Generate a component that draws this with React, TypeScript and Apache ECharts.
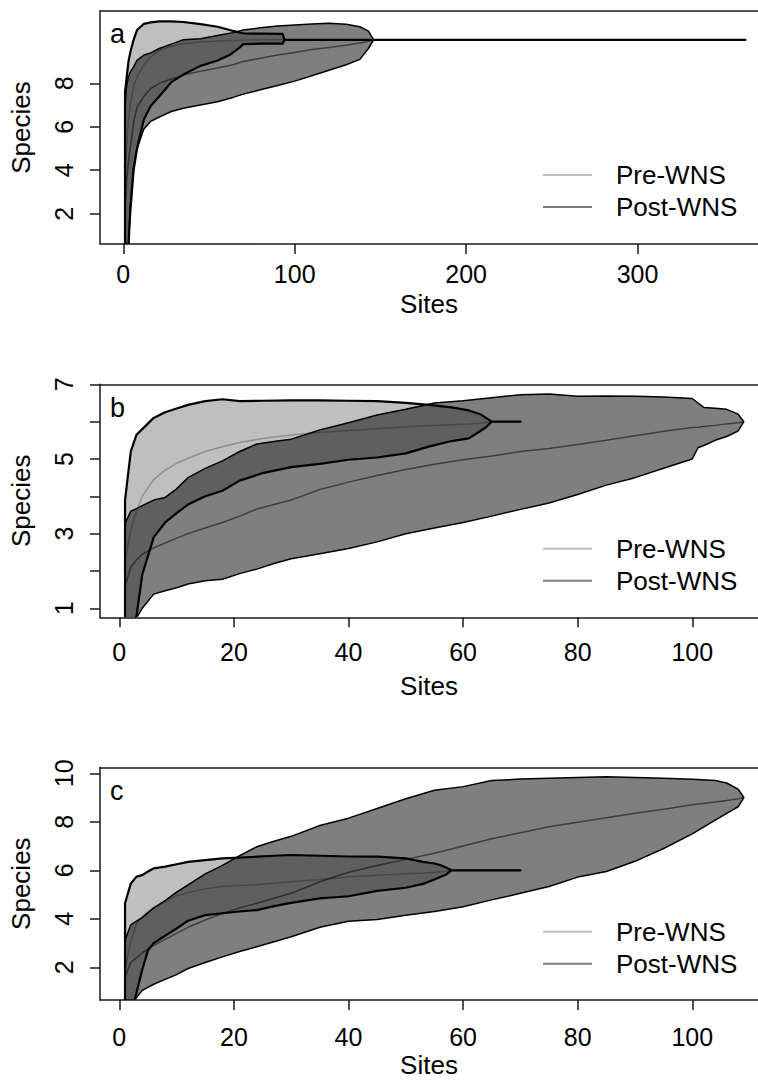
import React, { useEffect, useRef } from "react";
import * as echarts from "echarts";

// ---------- Panel a ----------
const A_PRE_SITES = [1, 2, 3, 4, 6, 8, 12, 16, 21, 28, 35, 45, 55, 62, 68, 70, 80, 93, 94, 363];
const A_PRE_UPPER = [7.6, 8.3, 9.0, 9.4, 10.0, 10.45, 10.73, 10.8, 10.85, 10.85, 10.82, 10.72, 10.6, 10.45, 10.33, 10.3, 10.28, 10.27, 10.0, 10.0];
const A_PRE_MEAN = [3.3, 5.2, 6.3, 7.0, 7.85, 8.3, 8.85, 9.2, 9.5, 9.7, 9.82, 9.9, 9.95, 9.97, 9.98, 9.99, 10.0, 10.0, 10.0, 10.0];
const A_PRE_LOWER = [-1.0, 0.2, 0.5, 2.0, 4.0, 5.0, 6.35, 6.95, 7.4, 8.05, 8.4, 8.8, 9.05, 9.3, 9.65, 9.8, 9.82, 9.82, 10.0, 10.0];

const A_POST_SITES = [1, 2, 3, 4, 6, 8, 12, 16, 21, 28, 35, 45, 55, 64, 70, 80, 90, 100, 110, 120, 130, 138, 143, 146];
const A_POST_UPPER = [7.0, 7.9, 8.3, 8.5, 8.75, 9.05, 9.3, 9.4, 9.6, 9.8, 10.0, 10.05, 10.2, 10.33, 10.45, 10.55, 10.63, 10.68, 10.73, 10.76, 10.72, 10.6, 10.4, 10.0];
const A_POST_MEAN = [2.2, 3.6, 4.4, 5.0, 6.2, 6.9, 7.4, 7.75, 8.0, 8.2, 8.38, 8.55, 8.7, 8.85, 9.0, 9.15, 9.3, 9.42, 9.55, 9.65, 9.75, 9.85, 9.93, 10.0];
const A_POST_LOWER = [-3.0, -1.0, 0.5, 2.3, 4.2, 5.0, 5.9, 6.25, 6.45, 6.7, 6.85, 7.0, 7.15, 7.35, 7.5, 7.7, 7.9, 8.1, 8.35, 8.6, 8.85, 9.1, 9.6, 10.0];

// ---------- Panel b ----------
const B_PRE_SITES = [1, 2, 3, 4, 6, 8, 10, 12, 15, 18, 21, 25, 30, 35, 40, 45, 50, 54, 58, 61, 63, 64, 65, 70];
const B_PRE_UPPER = [3.9, 5.2, 5.65, 5.8, 6.1, 6.25, 6.35, 6.45, 6.55, 6.6, 6.55, 6.56, 6.57, 6.57, 6.56, 6.55, 6.5, 6.45, 6.38, 6.3, 6.2, 6.1, 6.0, 6.0];
const B_PRE_MEAN = [2.3, 3.1, 3.6, 4.0, 4.45, 4.7, 4.88, 5.02, 5.2, 5.33, 5.44, 5.55, 5.64, 5.71, 5.76, 5.81, 5.86, 5.89, 5.92, 5.94, 5.96, 5.98, 6.0, 6.0];
const B_PRE_LOWER = [0.0, 0.4, 0.8, 1.9, 2.9, 3.3, 3.55, 3.78, 4.0, 4.15, 4.42, 4.62, 4.78, 4.87, 4.98, 5.04, 5.15, 5.33, 5.48, 5.55, 5.75, 5.85, 6.0, 6.0];

const B_POST_SITES = [1, 2, 3, 4, 6, 8, 10, 12, 15, 18, 21, 24, 27, 30, 35, 40, 45, 50, 55, 60, 65, 70, 75, 80, 85, 90, 95, 100, 101, 102, 104, 106, 108, 109];
const B_POST_UPPER = [3.27, 3.6, 3.67, 3.75, 3.9, 3.97, 4.2, 4.5, 4.75, 4.95, 5.2, 5.4, 5.47, 5.53, 5.78, 5.97, 6.18, 6.33, 6.5, 6.56, 6.64, 6.72, 6.74, 6.68, 6.69, 6.68, 6.66, 6.62, 6.5, 6.38, 6.36, 6.33, 6.2, 6.0];
const B_POST_MEAN = [1.6, 2.1, 2.3, 2.45, 2.62, 2.75, 2.88, 3.0, 3.15, 3.3, 3.47, 3.66, 3.78, 3.9, 4.18, 4.38, 4.56, 4.72, 4.86, 4.98, 5.08, 5.2, 5.28, 5.39, 5.5, 5.62, 5.74, 5.84, 5.85, 5.87, 5.9, 5.94, 5.97, 6.0];
const B_POST_LOWER = [-0.3, 0.4, 0.75, 1.0, 1.38, 1.47, 1.55, 1.65, 1.74, 1.78, 1.93, 2.05, 2.2, 2.33, 2.46, 2.6, 2.78, 3.0, 3.15, 3.3, 3.47, 3.65, 3.82, 4.05, 4.3, 4.5, 4.75, 5.0, 5.3, 5.36, 5.5, 5.6, 5.75, 6.0];

// ---------- Panel c ----------
const C_PRE_SITES = [1, 2, 3, 4, 5, 6, 8, 10, 12, 15, 18, 21, 24, 27, 30, 35, 40, 45, 50, 53, 55, 56, 57, 58, 70];
const C_PRE_UPPER = [4.64, 5.45, 5.74, 5.8, 5.95, 6.08, 6.15, 6.25, 6.35, 6.42, 6.49, 6.52, 6.56, 6.6, 6.63, 6.6, 6.57, 6.56, 6.49, 6.35, 6.28, 6.22, 6.12, 6.0, 6.0];
const C_PRE_MEAN = [1.9, 3.1, 3.8, 4.1, 4.3, 4.45, 4.7, 4.95, 5.08, 5.24, 5.33, 5.37, 5.4, 5.47, 5.53, 5.62, 5.72, 5.8, 5.86, 5.89, 5.92, 5.94, 5.96, 6.0, 6.0];
const C_PRE_LOWER = [-1.0, 0.0, 0.95, 1.9, 2.7, 3.0, 3.3, 3.6, 3.92, 4.15, 4.23, 4.3, 4.36, 4.52, 4.66, 4.84, 4.93, 5.15, 5.28, 5.44, 5.62, 5.72, 5.82, 6.0, 6.0];

const C_POST_SITES = [1, 2, 3, 4, 6, 8, 10, 12, 15, 18, 21, 24, 27, 30, 35, 40, 45, 50, 55, 60, 65, 70, 75, 80, 85, 90, 95, 100, 104, 106, 108, 109];
const C_POST_UPPER = [3.13, 3.75, 3.9, 4.05, 4.45, 4.75, 5.1, 5.4, 5.85, 6.2, 6.6, 6.97, 7.2, 7.4, 7.85, 8.15, 8.55, 8.95, 9.3, 9.45, 9.7, 9.76, 9.8, 9.83, 9.86, 9.83, 9.8, 9.75, 9.7, 9.6, 9.35, 9.0];
const C_POST_MEAN = [1.6, 2.2, 2.4, 2.6, 2.9, 3.15, 3.4, 3.65, 3.95, 4.22, 4.45, 4.64, 4.85, 5.05, 5.53, 5.92, 6.2, 6.45, 6.7, 7.0, 7.3, 7.55, 7.8, 7.98, 8.17, 8.35, 8.52, 8.7, 8.82, 8.88, 8.95, 9.0];
const C_POST_LOWER = [-0.5, 0.5, 0.75, 1.05, 1.3, 1.5, 1.7, 1.95, 2.2, 2.43, 2.65, 2.85, 3.05, 3.26, 3.65, 3.9, 3.97, 4.15, 4.3, 4.5, 4.78, 5.05, 5.33, 5.72, 5.95, 6.37, 6.9, 7.5, 8.07, 8.35, 8.62, 9.0];

// ---------- Axes ----------
const A_X_TICKS = [0, 100, 200, 300];
const A_Y_TICKS = [2, 4, 6, 8];
const A_Y_LABELS = [2, 4, 6, 8];
const BC_X_TICKS = [0, 20, 40, 60, 80, 100];
const B_Y_TICKS = [1, 2, 3, 4, 5, 6, 7];
const B_Y_LABELS = [1, 3, 5, 7];
const C_Y_TICKS = [2, 4, 6, 8, 10];
const C_Y_LABELS = [2, 4, 6, 8, 10];

const SERIES_NAMES = ["Pre-WNS", "Post-WNS"];
const PANEL_LETTERS = ["a", "b", "c"];
const X_TITLE = "Sites";
const Y_TITLE = "Species";

const FONT = '"Liberation Sans", Arial, Helvetica, sans-serif';
const PRE_COLOR = "rgba(0,0,0,0.25)";
const POST_COLOR = "rgba(0,0,0,0.5)";
const AXIS_COLOR = "#1a1a1a";

type Band = { x: number[]; lo: number[]; mean: number[]; hi: number[] };

const panels = [
  {
    grid: { left: 100, top: 11, width: 658, height: 233 },
    xMin: -13.6, xMax: 370.3, yMin: 0.606, yMax: 11.325,
    xTicks: A_X_TICKS, yTicks: A_Y_TICKS, yLabels: A_Y_LABELS,
    pre: { x: A_PRE_SITES, lo: A_PRE_LOWER, mean: A_PRE_MEAN, hi: A_PRE_UPPER },
    post: { x: A_POST_SITES, lo: A_POST_LOWER, mean: A_POST_MEAN, hi: A_POST_UPPER },
    legendTop: 162, letterY: 34, xLabelMargin: 17, xNameGap: 47,
  },
  {
    grid: { left: 100, top: 384.3, width: 658, height: 233 },
    xMin: -3.37, xMax: 111.47, yMin: 0.76, yMax: 7.0,
    xTicks: BC_X_TICKS, yTicks: B_Y_TICKS, yLabels: B_Y_LABELS,
    pre: { x: B_PRE_SITES, lo: B_PRE_LOWER, mean: B_PRE_MEAN, hi: B_PRE_UPPER },
    post: { x: B_POST_SITES, lo: B_POST_LOWER, mean: B_POST_MEAN, hi: B_POST_UPPER },
    legendTop: 535.7, letterY: 408, xLabelMargin: 22, xNameGap: 56,
  },
  {
    grid: { left: 100, top: 767.3, width: 658, height: 232.7 },
    xMin: -3.37, xMax: 111.47, yMin: 0.652, yMax: 10.247,
    xTicks: BC_X_TICKS, yTicks: C_Y_TICKS, yLabels: C_Y_LABELS,
    pre: { x: C_PRE_SITES, lo: C_PRE_LOWER, mean: C_PRE_MEAN, hi: C_PRE_UPPER },
    post: { x: C_POST_SITES, lo: C_POST_LOWER, mean: C_POST_MEAN, hi: C_POST_UPPER },
    legendTop: 918.7, letterY: 791, xLabelMargin: 24, xNameGap: 52,
  },
];

function bandSeries(idx: number, band: Band, fill: string, lw: number) {
  return {
    type: "custom",
    xAxisIndex: idx * 2,
    yAxisIndex: idx,
    clip: true,
    silent: true,
    data: [[band.x[0], band.hi[0]]],
    renderItem: (_params: any, api: any) => {
      const pts: number[][] = [];
      for (let i = 0; i < band.x.length; i++) pts.push(api.coord([band.x[i], band.hi[i]]));
      for (let i = band.x.length - 1; i >= 0; i--) pts.push(api.coord([band.x[i], band.lo[i]]));
      return {
        type: "polygon",
        shape: { points: pts },
        style: { fill, stroke: "#000", lineWidth: lw, lineJoin: "round" },
      };
    },
  };
}

function meanSeries(idx: number, band: Band, name: string, color: string) {
  return {
    type: "line",
    name,
    xAxisIndex: idx * 2,
    yAxisIndex: idx,
    data: band.x.map((x, i) => [x, band.mean[i]]),
    showSymbol: false,
    symbol: "none",
    clip: true,
    silent: true,
    lineStyle: { color, width: 1.5 },
    itemStyle: { color },
  };
}

function buildOption() {
  const grid: any[] = [];
  const xAxis: any[] = [];
  const yAxis: any[] = [];
  const series: any[] = [];
  const legend: any[] = [];
  const graphic: any[] = [];
  const line = { color: AXIS_COLOR, width: 1.5 };

  panels.forEach((p, i) => {
    grid.push({ ...p.grid, show: false, containLabel: false, outerBoundsMode: "none" });
    xAxis.push({
      gridIndex: i, type: "value", min: p.xMin, max: p.xMax, position: "bottom",
      axisLine: { show: true, onZero: false, lineStyle: line },
      axisTick: { show: true, length: 10, customValues: p.xTicks, lineStyle: line },
      axisLabel: { customValues: p.xTicks, fontSize: 25, color: "#000", fontFamily: FONT, margin: p.xLabelMargin },
      splitLine: { show: false },
      name: X_TITLE, nameLocation: "middle", nameGap: p.xNameGap, nameMoveOverlap: false,
      nameTextStyle: { fontSize: 26, color: "#000", fontFamily: FONT },
    });
    xAxis.push({
      gridIndex: i, type: "value", min: p.xMin, max: p.xMax, position: "top",
      axisLine: { show: true, onZero: false, lineStyle: line },
      axisTick: { show: false }, axisLabel: { show: false }, splitLine: { show: false },
    });
    yAxis.push({
      gridIndex: i, type: "value", min: p.yMin, max: p.yMax, position: "left",
      axisLine: { show: true, onZero: false, lineStyle: line },
      axisTick: { show: true, length: 10, customValues: p.yTicks, lineStyle: line },
      axisLabel: {
        customValues: p.yLabels, rotate: 90, fontSize: 25, color: "#000", fontFamily: FONT,
        margin: 36, align: "center", verticalAlign: "middle",
      },
      splitLine: { show: false },
      name: Y_TITLE, nameLocation: "middle", nameGap: 79, nameRotate: 90, nameMoveOverlap: false,
      nameTextStyle: { fontSize: 26, color: "#000", fontFamily: FONT, align: "center", verticalAlign: "middle" },
    });
    series.push(bandSeries(i, p.post, POST_COLOR, 1.5));
    series.push(bandSeries(i, p.pre, PRE_COLOR, 2.2));
    series.push(meanSeries(i, p.post, SERIES_NAMES[1], POST_COLOR));
    series.push(meanSeries(i, p.pre, SERIES_NAMES[0], PRE_COLOR));
    legend.push({
      left: 543, top: p.legendTop, orient: "vertical", padding: 0,
      icon: "rect", itemWidth: 49, itemHeight: 2, itemGap: 6,
      selectedMode: false, data: SERIES_NAMES,
      textStyle: { fontSize: 26, fontFamily: FONT, color: "#000", lineHeight: 26, padding: [0, 0, 0, 19] },
    });
    graphic.push({
      type: "text", x: 110, y: p.letterY, silent: true,
      style: { text: PANEL_LETTERS[i], fontSize: 27, fontFamily: FONT, fill: "#000", verticalAlign: "middle", align: "left" },
    });
  });

  return { animation: false, backgroundColor: "#fff", grid, xAxis, yAxis, series, legend, graphic };
}

export default function App() {
  const ref = useRef<HTMLDivElement>(null);
  useEffect(() => {
    if (!ref.current) return;
    const chart = echarts.init(ref.current, undefined, { renderer: "svg" });
    chart.setOption(buildOption() as any);
    return () => chart.dispose();
  }, []);
  return (
    <div
      ref={ref}
      style={{ position: "absolute", left: 0, top: 0, width: 758, height: 1084, background: "#fff" }}
    />
  );
}
